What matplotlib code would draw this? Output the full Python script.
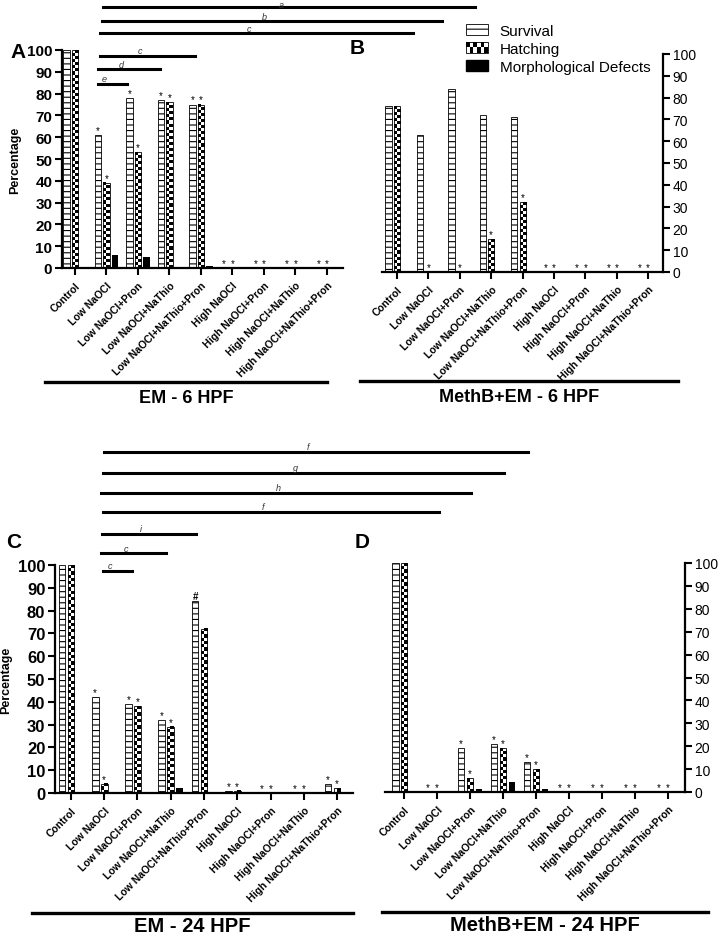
import numpy as np
import matplotlib.pyplot as plt
from matplotlib.colors import ListedColormap
from matplotlib.lines import Line2D
from matplotlib.patches import Patch, Rectangle
from matplotlib.legend_handler import HandlerBase

plt.rcParams['font.family'] = ['Liberation Sans', 'DejaVu Sans']
plt.rcParams['hatch.linewidth'] = 0.8

W, H = 720, 937

groups = ['Control', 'Low NaOCl', 'Low NaOCl+Pron', 'Low NaOCl+NaThio',
          'Low NaOCl+NaThio+Pron', 'High NaOCl', 'High NaOCl+Pron',
          'High NaOCl+NaThio', 'High NaOCl+NaThio+Pron']

# values in %
em6_survival = [100, 61, 78, 77, 75, 0, 0, 0, 0]
em6_hatching = [100, 39, 53, 76, 75, 0, 0, 0, 0]
em6_defects = [0, 6, 5, 0, 1, 0, 0, 0, 0]

meth6_survival = [76, 63, 84, 72, 71, 0, 0, 0, 0]
meth6_hatching = [76, 0, 0, 15, 32, 0, 0, 0, 0]
meth6_defects = [0, 0.4, 0, 0, 0, 0, 0, 0, 0]

em24_survival = [100, 42, 39, 32, 84, 1, 0, 0, 4]
em24_hatching = [100, 4, 38, 29, 72, 1, 0, 0, 2]
em24_defects = [0.5, 0.5, 0, 2, 0.5, 0, 0, 0, 0.5]

meth24_survival = [100, 0, 19, 21, 13, 0, 0, 0, 0]
meth24_hatching = [100, 0, 6, 19, 10, 0, 0, 0, 0]
meth24_defects = [0.4, 0, 1.5, 4.5, 1.5, 0, 0, 0, 0]

# marks above survival / hatching bars
em6_marks_s = ['', '*', '*', '*', '*', '*', '*', '*', '*']
em6_marks_h = ['', '*', '*', '*', '*', '*', '*', '*', '*']
meth6_marks_s = ['', '', '', '', '', '*', '*', '*', '*']
meth6_marks_h = ['', '*', '*', '*', '*', '*', '*', '*', '*']
em24_marks_s = ['', '*', '*', '*', '#', '*', '*', '*', '*']
em24_marks_h = ['', '*', '*', '*', '', '*', '*', '*', '*']
meth24_marks_s = ['', '*', '*', '*', '*', '*', '*', '*', '*']
meth24_marks_h = ['', '*', '*', '*', '*', '*', '*', '*', '*']

# comparison lines above the panels (pixel layout): x0, x1, y, letter
top_brackets = [(103, 475, 8, 'a'), (102, 442, 22, 'b'), (100, 413, 34, 'c'),
                (100, 195, 57, 'c'), (98, 160, 70, 'd'), (98, 127, 85, 'e')]
bottom_brackets = [(104, 528, 453, 'f'), (103, 504, 474, 'g'), (101, 471, 494, 'h'),
                   (103, 439, 513, 'f'), (102, 196, 535, 'i'), (101, 166, 554, 'c'),
                   (103, 132, 572, 'c')]

checker_cmap = ListedColormap(['white', 'black'])


def fx(px):
    return px / W


def fy(py):
    return 1 - py / H


def axes_at(fig, left, right, top, bottom):
    return fig.add_axes([fx(left), fy(bottom), fx(right) - fx(left), fy(top) - fy(bottom)])


def draw_panel(ax, surv, hatch, defects, marks_s, marks_h, xlim, side, ylab_size):
    x = np.arange(len(groups))
    off, w = 0.27, 0.2
    ax.bar(x - off, surv, w, facecolor='white', edgecolor='black', hatch='---',
           linewidth=0.6, zorder=2)
    # checkerboard fill for hatching bars
    for xi, h in zip(x, hatch):
        if h > 0:
            rows = max(1, int(round(h / 1.4)))
            cells = np.indices((rows, 2)).sum(axis=0) % 2
            ax.imshow(cells, extent=[xi - w / 2, xi + w / 2, 0, h], cmap=checker_cmap,
                      vmin=0, vmax=1, aspect='auto', interpolation='nearest',
                      origin='lower', zorder=2)
    ax.bar(x, hatch, w, facecolor='none', edgecolor='black', linewidth=0.6, zorder=3)
    ax.bar(x + off, defects, w, color='black', zorder=2)

    for xs, vals, marks in ((x - off, surv, marks_s), (x, hatch, marks_h)):
        for xi, v, m in zip(xs, vals, marks):
            if m:
                ax.text(xi, v, m, ha='center', va='bottom', fontsize=7,
                        fontweight='bold' if m == '#' else 'normal', zorder=4)

    ax.set_xlim(*xlim)
    ax.set_ylim(0, 100)
    ax.set_yticks(range(0, 101, 10))
    ax.set_xticks(x)
    ax.set_xticklabels(groups, rotation=45, ha='right', rotation_mode='anchor',
                       fontsize=7.5, fontweight='bold')
    for lab in ax.get_yticklabels():
        lab.set_fontweight('bold')
        lab.set_fontsize(ylab_size)
    ax.tick_params(axis='both', width=1.5, length=5, color='black')
    ax.tick_params(axis='y', pad=2)
    for s in ax.spines.values():
        s.set_visible(False)
    ax.spines['bottom'].set_visible(True)
    ax.spines['bottom'].set_linewidth(1.6)
    ax.spines[side].set_visible(True)
    ax.spines[side].set_linewidth(1.6)
    if side == 'right':
        ax.yaxis.tick_right()
    else:
        ax.set_ylabel('Percentage', fontsize=9, fontweight='bold', labelpad=4)


class CheckerHandler(HandlerBase):
    def create_artists(self, legend, orig_handle, xdescent, ydescent, width, height,
                       fontsize, trans):
        arts = []
        nx, ny = 6, 2
        cw, ch = width / nx, height / ny
        for i in range(nx):
            for j in range(ny):
                arts.append(Rectangle((-xdescent + i * cw, -ydescent + j * ch), cw, ch,
                                      facecolor='black' if (i + j) % 2 else 'white',
                                      edgecolor='none', transform=trans))
        arts.append(Rectangle((-xdescent, -ydescent), width, height, facecolor='none',
                              edgecolor='black', linewidth=0.6, transform=trans))
        return arts


fig = plt.figure(figsize=(7.2, 9.37), dpi=100)

axA = axes_at(fig, 62, 343, 51, 269)
draw_panel(axA, em6_survival, em6_hatching, em6_defects, em6_marks_s, em6_marks_h,
           (-0.41, 8.51), 'left', 11)
axB = axes_at(fig, 382, 663, 55, 273)
draw_panel(axB, meth6_survival, meth6_hatching, meth6_defects, meth6_marks_s,
           meth6_marks_h, (-0.48, 8.47), 'right', 11)
axC = axes_at(fig, 55, 353, 566, 794)
draw_panel(axC, em24_survival, em24_hatching, em24_defects, em24_marks_s, em24_marks_h,
           (-0.48, 8.48), 'left', 12)
axD = axes_at(fig, 385, 685, 564, 793)
draw_panel(axD, meth24_survival, meth24_hatching, meth24_defects, meth24_marks_s,
           meth24_marks_h, (-0.58, 8.52), 'right', 11)

# comparison lines
for x0, x1, y, letter in top_brackets + bottom_brackets:
    fig.add_artist(Line2D([fx(x0), fx(x1)], [fy(y), fy(y)], color='black', linewidth=2.2))
    fig.text(fx((x0 + x1) / 2 - 8), fy(max(y - 2.5, 7.5)), letter, ha='center',
             va='baseline', fontsize=6.5, fontstyle='italic', color='#333333')

# panel letters
for letter, px, py in (('A', 18, 52), ('B', 357, 48), ('C', 14, 542), ('D', 362, 542)):
    fig.text(fx(px), fy(py), letter, ha='center', va='center', fontsize=15,
             fontweight='bold')

# condition labels under each panel
for text, x0, x1, y, size, ty in (('EM - 6 HPF', 45, 327, 383, 13, 407),
                                  ('MethB+EM - 6 HPF', 360, 678, 382, 13, 406),
                                  ('EM - 24 HPF', 32, 353, 914, 14.5, 936),
                                  ('MethB+EM - 24 HPF', 382, 708, 913, 14.5, 935)):
    fig.add_artist(Line2D([fx(x0), fx(x1)], [fy(y), fy(y)], color='black', linewidth=2.4))
    fig.text(fx((x0 + x1) / 2), fy(ty), text, ha='center', va='bottom', fontsize=size,
             fontweight='bold')

checker_handle = Patch(facecolor='white', edgecolor='black')
handles = [Patch(facecolor='white', edgecolor='black', hatch='--', linewidth=0.6),
           checker_handle,
           Patch(facecolor='black', edgecolor='black')]
fig.legend(handles, ['Survival', 'Hatching', 'Morphological Defects'],
           handler_map={checker_handle: CheckerHandler()},
           loc='upper left', bbox_to_anchor=(fx(466), fy(25)), frameon=False,
           fontsize=11, handlelength=1.45, handleheight=0.75, labelspacing=0.25,
           handletextpad=0.75, borderaxespad=0, borderpad=0)

fig.savefig('out.png', dpi=100)
